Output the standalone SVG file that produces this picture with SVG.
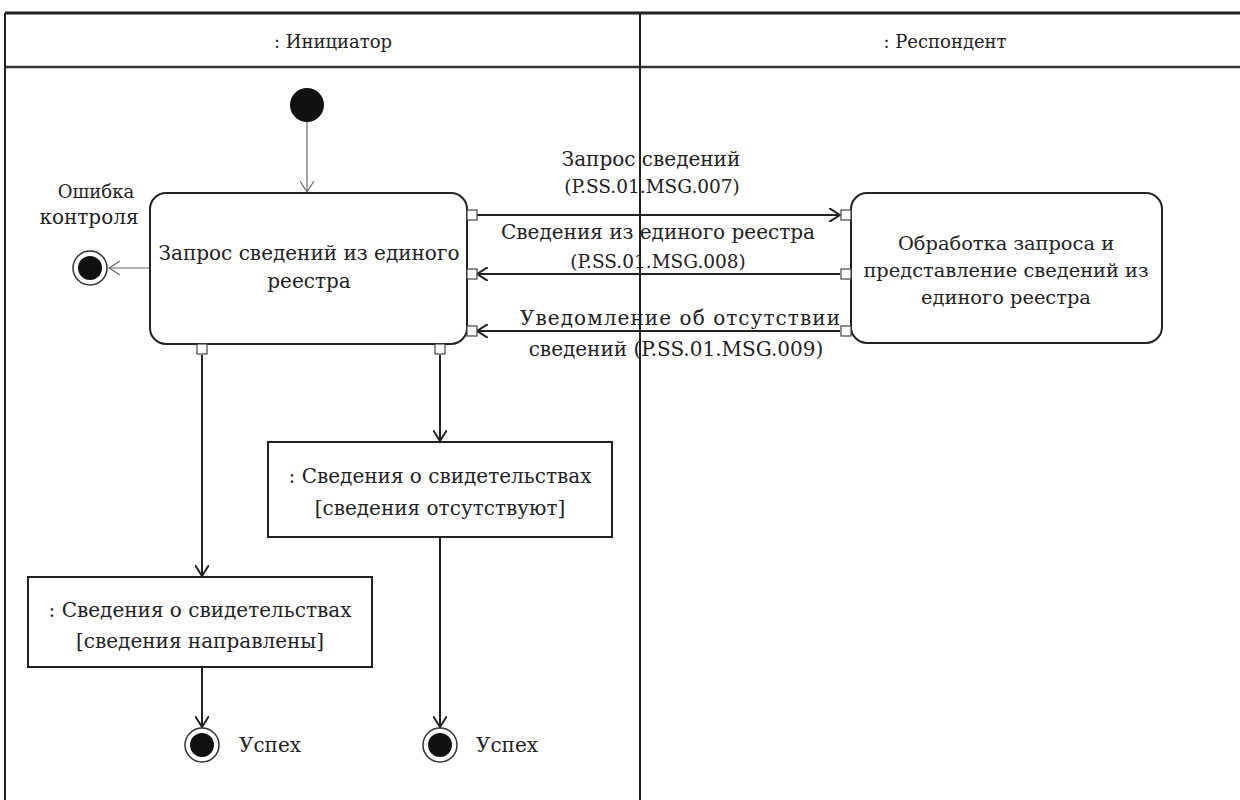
<svg xmlns="http://www.w3.org/2000/svg" width="1240" height="800" viewBox="0 0 1240 800">
<defs>
<style>
text{font-family:'DejaVu Serif',serif;font-size:20px;fill:#222;text-anchor:middle}
.hdr{font-size:18px}
.code{font-size:18.5px}
.rb{font-size:19.4px}
.act{fill:#fff;stroke:#222;stroke-width:2}
.obj{fill:#fff;stroke:#222;stroke-width:2}
.pin{fill:#fff;stroke:#444;stroke-width:1.2}
.flow{fill:none;stroke:#222;stroke-width:2}
.thin{fill:none;stroke:#666;stroke-width:1.2}
</style>
<marker id="ah" viewBox="0 0 12 14" refX="11" refY="7" markerWidth="12" markerHeight="14" markerUnits="userSpaceOnUse" orient="auto">
<path d="M0,0 L11,7 L0,14" fill="none" stroke="#222" stroke-width="2"/>
</marker>
<marker id="ahthin" viewBox="0 0 12 14" refX="11" refY="7" markerWidth="12" markerHeight="14" markerUnits="userSpaceOnUse" orient="auto">
<path d="M0,0 L11,7 L0,14" fill="none" stroke="#666" stroke-width="1.2"/>
</marker>
</defs>
<rect width="1240" height="800" fill="#fff"/>
<g id="swimlanes">
<line x1="5" y1="13" x2="1240" y2="13" stroke="#222" stroke-width="3"/>
<line x1="5" y1="67" x2="1240" y2="67" stroke="#333" stroke-width="2.5"/>
<line x1="5" y1="13" x2="5" y2="800" stroke="#222" stroke-width="2"/>
<line x1="640" y1="13" x2="640" y2="800" stroke="#222" stroke-width="2"/>
<text class="hdr" x="333" y="48">: Инициатор</text>
<text class="hdr" x="945" y="48">: Респондент</text>
</g>
<g id="connectors">
<line class="thin" x1="307" y1="122" x2="307" y2="192" marker-end="url(#ahthin)"/>
<line class="thin" x1="150" y1="268" x2="109" y2="268" marker-end="url(#ahthin)"/>
<line class="flow" x1="477" y1="215" x2="840" y2="215" marker-end="url(#ah)"/>
<line class="flow" x1="840" y1="274" x2="477" y2="274" marker-end="url(#ah)"/>
<line class="flow" x1="840" y1="331" x2="477" y2="331" marker-end="url(#ah)"/>
<line class="flow" x1="202" y1="355" x2="202" y2="576" marker-end="url(#ah)"/>
<line class="flow" x1="440" y1="355" x2="440" y2="441" marker-end="url(#ah)"/>
<line class="flow" x1="202" y1="667" x2="202" y2="727" marker-end="url(#ah)"/>
<line class="flow" x1="440" y1="537" x2="440" y2="727" marker-end="url(#ah)"/>
<text x="651" y="166">Запрос сведений</text>
<text class="code" x="652" y="193">(P.SS.01.MSG.007)</text>
<text x="658" y="239">Сведения из единого реестра</text>
<text class="code" x="658" y="268">(P.SS.01.MSG.008)</text>
<text x="680" y="325" textLength="320" lengthAdjust="spacing">Уведомление об отсутствии</text>
<text x="676" y="356">сведений (P.SS.01.MSG.009)</text>
</g>
<g id="initial">
<circle cx="307" cy="105" r="17" fill="#111"/>
</g>
<g id="request-action">
<rect class="act" x="150" y="193" width="317" height="151" rx="16"/>
<text x="309" y="260">Запрос сведений из единого</text>
<text x="309" y="288">реестра</text>
<rect class="pin" x="467" y="210" width="10" height="10"/>
<rect class="pin" x="467" y="269" width="10" height="10"/>
<rect class="pin" x="467" y="326" width="10" height="10"/>
<rect class="pin" x="197" y="344" width="10" height="10"/>
<rect class="pin" x="435" y="344" width="10" height="10"/>
</g>
<g id="process-action">
<rect class="act" x="851" y="193" width="311" height="150" rx="16"/>
<text class="rb" x="1006" y="250">Обработка запроса и</text>
<text class="rb" x="1006" y="277">представление сведений из</text>
<text class="rb" x="1006" y="304">единого реестра</text>
<rect class="pin" x="841" y="210" width="10" height="10"/>
<rect class="pin" x="841" y="269" width="10" height="10"/>
<rect class="pin" x="841" y="326" width="10" height="10"/>
</g>
<g id="error-final">
<circle cx="90" cy="268" r="17" fill="#fff" stroke="#333" stroke-width="1.5"/>
<circle cx="90" cy="268" r="12" fill="#111"/>
<text x="96" y="198" style="font-size:18px">Ошибка</text>
<text x="89" y="224">контроля</text>
</g>
<g id="obj-absent">
<rect class="obj" x="268" y="442" width="344" height="95"/>
<text x="440" y="483">: Сведения о свидетельствах</text>
<text x="440" y="515">[сведения отсутствуют]</text>
</g>
<g id="obj-sent">
<rect class="obj" x="28" y="577" width="344" height="90"/>
<text x="200" y="617">: Сведения о свидетельствах</text>
<text x="200" y="648">[сведения направлены]</text>
</g>
<g id="final-success-1">
<circle cx="202" cy="745" r="17" fill="#fff" stroke="#333" stroke-width="1.5"/>
<circle cx="202" cy="745" r="12" fill="#111"/>
<text x="270" y="752">Успех</text>
</g>
<g id="final-success-2">
<circle cx="440" cy="745" r="17" fill="#fff" stroke="#333" stroke-width="1.5"/>
<circle cx="440" cy="745" r="12" fill="#111"/>
<text x="507" y="752">Успех</text>
</g>
</svg>
